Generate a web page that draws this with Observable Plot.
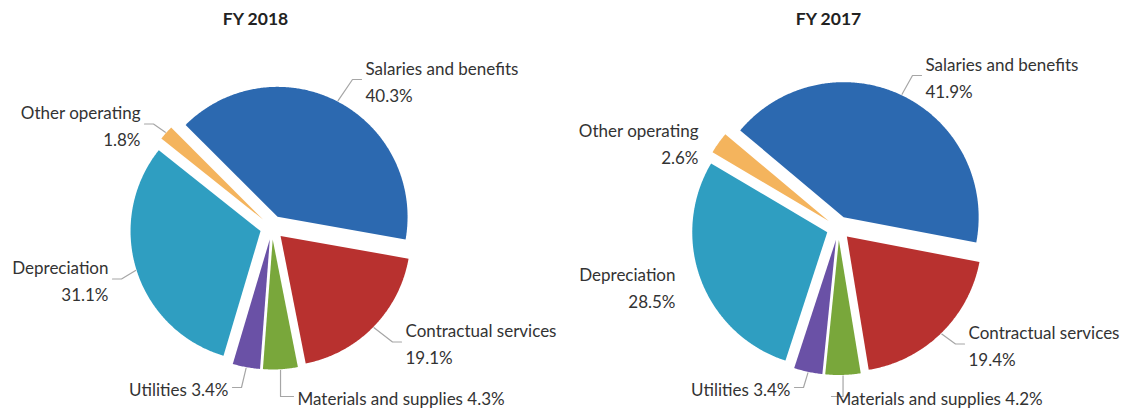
<!DOCTYPE html>
<html><head><meta charset="utf-8">
<script src="https://cdn.jsdelivr.net/npm/d3@7"></script>
<script src="https://cdn.jsdelivr.net/npm/@observablehq/plot@0.6"></script>
<style>body{margin:0;background:#fff;}</style>
</head><body><div id="chart"></div>
<script>
// ---- data ----
const categories = ["Salaries and benefits","Contractual services","Materials and supplies","Utilities","Depreciation","Other operating"];
const years = ["FY 2018","FY 2017"];
const values2018 = [40.3, 19.1, 4.3, 3.4, 31.1, 1.8];
const values2017 = [41.9, 19.4, 4.2, 3.4, 28.5, 2.6];
const sliceColors = ["#2c69b0","#b8312f","#79a73b","#6a51a6","#2f9ec1","#f4b45d"];

// ---- layout ----
const W = 1122, H = 408;
const explode = 12;
const pies = [
  {title: years[0], values: values2018, cx: 271.5, cy: 227, r: 130, start: -45, titleX: 255},
  {title: years[1], values: values2017, cx: 838, cy: 227.5, r: 135, start: -50, titleX: 828}
];
// label placement per pie, in category order: side, x, y (block centre), one-line?, leader?, elbow style
const labelLayout = [
  [
    {side:"start", x:365, y:79,    single:false, leader:true},
    {side:"start", x:405, y:341.5, single:false, leader:true},
    {side:"start", x:297, y:396,   single:true,  leader:true, vertical:true},
    {side:"end",   x:228, y:387,   single:true,  leader:true},
    {side:"end",   x:108, y:278.5, single:false, leader:true},
    {side:"end",   x:140, y:123.5, single:false, leader:true}
  ],
  [
    {side:"start", x:925, y:75,    single:false, leader:true},
    {side:"start", x:968, y:343.5, single:false, leader:true},
    {side:"start", x:835, y:396,   single:true,  leader:true, vertical:true},
    {side:"end",   x:790, y:387,   single:true,  leader:true},
    {side:"end",   x:675, y:285.5, single:false, leader:false},
    {side:"end",   x:698, y:141.5, single:false, leader:false}
  ]
];

const rad = Math.PI / 180;
const sliceRows = [], leaderRows = [], labelRows = [];
pies.forEach((p, pi) => {
  const a0 = p.start * rad;
  const arcs = d3.pie().sort(null).value(d => d).startAngle(a0).endAngle(a0 + 2 * Math.PI)(p.values);
  arcs.forEach((a, i) => {
    const cat = categories[i];
    const key = pi + "-" + i;
    const mid = (a.startAngle + a.endAngle) / 2;
    const tx = p.cx + explode * Math.sin(mid), ty = p.cy - explode * Math.cos(mid);
    sliceRows.push({key, cat, x: tx, y: ty});
    const n = Math.max(2, Math.ceil((a.endAngle - a.startAngle) / (0.5 * rad)));
    for (let k = 0; k <= n; k++) {
      const t = a.startAngle + (a.endAngle - a.startAngle) * k / n;
      sliceRows.push({key, cat, x: tx + p.r * Math.sin(t), y: ty - p.r * Math.cos(t)});
    }
    sliceRows.push({key, cat, x: tx, y: ty});

    const L = labelLayout[pi][i];
    const pct = p.values[i].toFixed(1) + "%";
    labelRows.push({side: L.side, x: L.x, y: L.y, text: L.single ? cat + " " + pct : cat + "\n" + pct});
    if (L.leader) {
      const s = L.side === "start" ? 1 : -1;
      const ex = tx + (p.r + 1) * Math.sin(mid), ey = ty - (p.r + 1) * Math.cos(mid);
      leaderRows.push({key, x: ex, y: ey});
      leaderRows.push({key, x: L.vertical ? ex : L.x - 13 * s, y: L.y});
      leaderRows.push({key, x: L.x - 4 * s, y: L.y});
    }
  });
});

const font = "Lato, 'Open Sans', sans-serif";
const chart = Plot.plot({
  width: W, height: H, margin: 0,
  x: {domain: [0, W], range: [0, W], axis: null},
  y: {domain: [0, H], range: [0, H], axis: null},
  color: {domain: categories, range: sliceColors},
  style: {fontFamily: font, background: "#fff", color: "#333"},
  marks: [
    Plot.line(sliceRows, {x: "x", y: "y", z: "key", fill: "cat", stroke: "none"}),
    Plot.line(leaderRows, {x: "x", y: "y", z: "key", stroke: "#a6a6a6", strokeWidth: 1.2, curve: "linear"}),
    Plot.text(labelRows.filter(d => d.side === "start"), {x: "x", y: "y", text: "text", textAnchor: "start", lineAnchor: "middle", lineHeight: 1.6, fontSize: 17, fill: "#333"}),
    Plot.text(labelRows.filter(d => d.side === "end"), {x: "x", y: "y", text: "text", textAnchor: "end", lineAnchor: "middle", lineHeight: 1.6, fontSize: 17, fill: "#333"}),
    Plot.text(pies, {x: "titleX", y: () => 19, text: "title", fontWeight: "bold", fontSize: 17.5, fill: "#222"})
  ]
});
document.getElementById("chart").appendChild(chart);
</script>
</body></html>
